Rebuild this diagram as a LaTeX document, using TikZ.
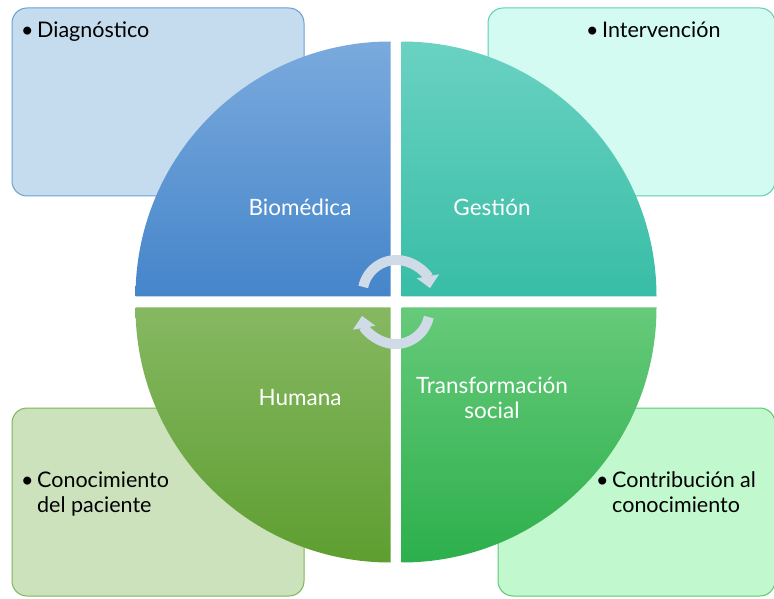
\documentclass[tikz,border=0pt]{standalone}
\usepackage{fontspec}
\setmainfont{Lato}
\usepackage{xcolor}
\usepackage{tikz}
\usetikzlibrary{calc}
\usetikzlibrary{positioning}
\usetikzlibrary{arrows.meta}

\definecolor{diagfill}{HTML}{C5DCEF}
\definecolor{diagline}{HTML}{6C9FD6}
\definecolor{intfill}{HTML}{D3FBF1}
\definecolor{intline}{HTML}{5DCDB5}
\definecolor{pacfill}{HTML}{CBE2BC}
\definecolor{pacline}{HTML}{7DB65A}
\definecolor{contfill}{HTML}{C1F8CD}
\definecolor{contline}{HTML}{5CC873}
\definecolor{biotop}{HTML}{7AAADD}
\definecolor{biobot}{HTML}{4585CA}
\definecolor{gestop}{HTML}{6AD2C2}
\definecolor{gesbot}{HTML}{38BDA6}
\definecolor{humtop}{HTML}{86B862}
\definecolor{hembot}{HTML}{5E9E30}
\definecolor{tratop}{HTML}{66CA7A}
\definecolor{trabot}{HTML}{2DAF4C}
\definecolor{cyclegray}{HTML}{D0DBE8}

\begin{document}
\begin{tikzpicture}[x=1pt,y=1pt,
      box style/.style={rectangle,rounded corners=15pt,line width=1pt,
        minimum width=292pt,minimum height=188pt,inner sep=0pt},
      item style/.style={anchor=base west,inner sep=0pt,align=left,
        font=\fontsize{21.5}{25}\selectfont},
      quad style/.style={text=white,align=center,inner sep=0pt,
        font=\fontsize{22.5}{25}\selectfont},
      cycle style/.style={line width=10pt,draw=cyclegray,
        -{Triangle[length=12pt,width=22pt]}}
      ]
      \useasboundingbox (0,0) rectangle (774,598);

      % outer boxes
      \node[box style,draw=diagline,fill=diagfill] (diag) at (158,496) {};
      \node[box style,draw=intline,fill=intfill,minimum width=287pt] (interv) at (631.5,496) {};
      \node[box style,draw=pacline,fill=pacfill] (pac) at (158,96) {};
      \node[box style,draw=contline,fill=contfill,minimum width=277pt] (cont) at (636.5,96) {};

      % circle quarters
      \shade[top color=biotop,bottom color=biobot] (390.5,301.5) -- ++(-255,0)
        arc[start angle=180,end angle=90,radius=255] -- cycle;
      \shade[top color=gestop,bottom color=gesbot] (401.5,301.5) -- ++(0,255)
        arc[start angle=90,end angle=0,radius=255] -- cycle;
      \shade[top color=humtop,bottom color=hembot] (390.5,290.5) -- ++(0,-255)
        arc[start angle=270,end angle=180,radius=255] -- cycle;
      \shade[top color=tratop,bottom color=trabot] (401.5,290.5) -- ++(255,0)
        arc[start angle=0,end angle=-90,radius=255] -- cycle;

      % box texts (base is the last line)
      \node[item style] (diagtext) at (37,560) {\llap{•\,}Diagnóstico};
      \node[item style] (intertext) at (602,560) {\llap{•\,}Intervención};
      \node[item style] (pactext) at (37,86) {\llap{•\,}Conocimiento\\del paciente};
      \node[item style] (conttext) at (612,86) {\llap{•\,}Contribución al\\conocimiento};

      \node[quad style] (bio) at (300,391) {Biomédica};
      \node[quad style] (ges) at (492,391) {Gestión};
      \node[quad style] (hum) at (300,200) {Humana};
      \node[quad style] (tra) at (492,200) {Transformación\\social};

      % cycle arrows
      \draw[cycle style] (396.5,304) ++(168:34) arc[start angle=168,end angle=10,radius=34];
      \draw[cycle style] (395.5,288) ++(-12:34) arc[start angle=-12,end angle=-170,radius=34];

    \end{tikzpicture}
\end{document}
